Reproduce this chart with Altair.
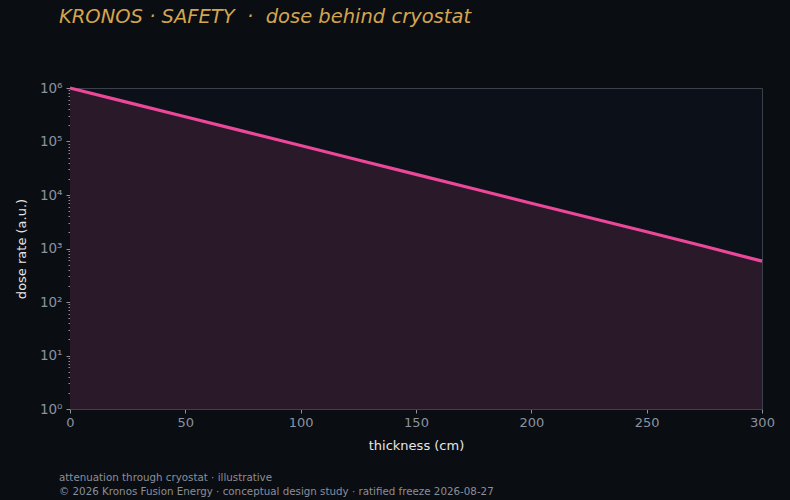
import altair as alt
import pandas as pd

thickness = [0, 25, 50, 75, 100, 125, 150, 175, 200, 225, 250, 275, 300]
dose = [1000000, 538000, 290000, 156000, 84000, 45000, 24300, 13100, 7000, 3800, 2050, 1100, 580]
base = [1] * len(thickness)

major = [1, 10, 100, 1000, 10000, 100000, 1000000]
minor = [m * d for d in [1, 10, 100, 1000, 10000, 100000] for m in range(2, 10)]
yvals = sorted(major + minor)
xvals = [0, 50, 100, 150, 200, 250, 300]

footer1 = "attenuation through cryostat · illustrative"
footer2 = "© 2026 Kronos Fusion Energy · conceptual design study · ratified freeze 2026-08-27"
title = "KRONOS · SAFETY\u00a0 ·\u00a0 dose behind cryostat"

df = pd.DataFrame({"thickness": thickness, "dose": dose, "base": base})

FONT = "DejaVu Sans"
TICK = "#8a93a0"
DOMAIN = "#3a404c"
BG = "#0a0d12"

label_expr = (
    "datum.value == 1 ? '10⁰' : datum.value == 10 ? '10¹' : datum.value == 100 ? '10²' : "
    "datum.value == 1000 ? '10³' : datum.value == 10000 ? '10⁴' : datum.value == 100000 ? '10⁵' : "
    "datum.value == 1000000 ? '10⁶' : ''"
)
major_test = "indexof([1,10,100,1000,10000,100000,1000000], datum.value) >= 0"

xenc = alt.X(
    "thickness:Q",
    scale=alt.Scale(domain=[0, 300], nice=False, zero=False),
    axis=alt.Axis(
        values=xvals, title="thickness (cm)", grid=False, tickSize=4,
        labelPadding=3, titlePadding=10, labelFlush=False,
    ),
)
yscale = alt.Scale(type="log", domain=[1, 1000000], nice=False)

area = alt.Chart(df).mark_area(color="#2a1929", opacity=1).encode(
    x=xenc,
    y=alt.Y(
        "dose:Q",
        scale=yscale,
        axis=alt.Axis(
            values=yvals, labelExpr=label_expr, title="dose rate (a.u.)", grid=False,
            tickSize={"condition": {"test": major_test, "value": 4}, "value": 2},
            labelPadding=4, titlePadding=11, labelFontSize=13.5, labelFlush=False,
        ),
    ),
    y2="base:Q",
)

line = alt.Chart(df).mark_line(color="#ec4899", strokeWidth=3.2).encode(
    x="thickness:Q", y="dose:Q"
)

foot = pd.DataFrame({"t": [footer1, footer2], "yy": [390, 404]})
footer = alt.Chart(foot).mark_text(
    align="left", baseline="middle", font=FONT, fontSize=10.3, color="#8a8f99"
).encode(text="t:N", x=alt.value(-11), y=alt.Y("yy:Q", scale=None))

chart = (
    alt.layer(area, line, footer)
    .properties(
        width=692,
        height=321,
        background=BG,
        padding={"left": 70, "top": 88, "right": 28, "bottom": 91},
        autosize=alt.AutoSizeParams(type="none"),
        title=alt.TitleParams(
            title, anchor="start", frame="group", dx=-11, offset=54,
            font=FONT, fontSize=19.5, fontStyle="italic", fontWeight="normal", color="#d4a54f",
        ),
    )
    .configure_view(fill="#0c1018", stroke=DOMAIN, strokeWidth=1)
    .configure_axis(
        labelFont=FONT, titleFont=FONT, labelFontSize=13, titleFontSize=13,
        labelColor=TICK, tickColor=TICK, domainColor=DOMAIN, titleColor="#e6e6e6",
        titleFontWeight="normal",
    )
)

chart.save("out.html", embed_options={"renderer": "svg", "actions": False})

with open("out.html", encoding="utf-8") as f:
    html = f.read()
html = html.replace(
    "<head>",
    "<head>\n<style>html, body { background: %s; margin: 0; padding: 0; overflow: hidden; }"
    " .vega-embed { padding: 0 !important; }</style>" % BG,
    1,
)
with open("out.html", "w", encoding="utf-8") as f:
    f.write(html)
